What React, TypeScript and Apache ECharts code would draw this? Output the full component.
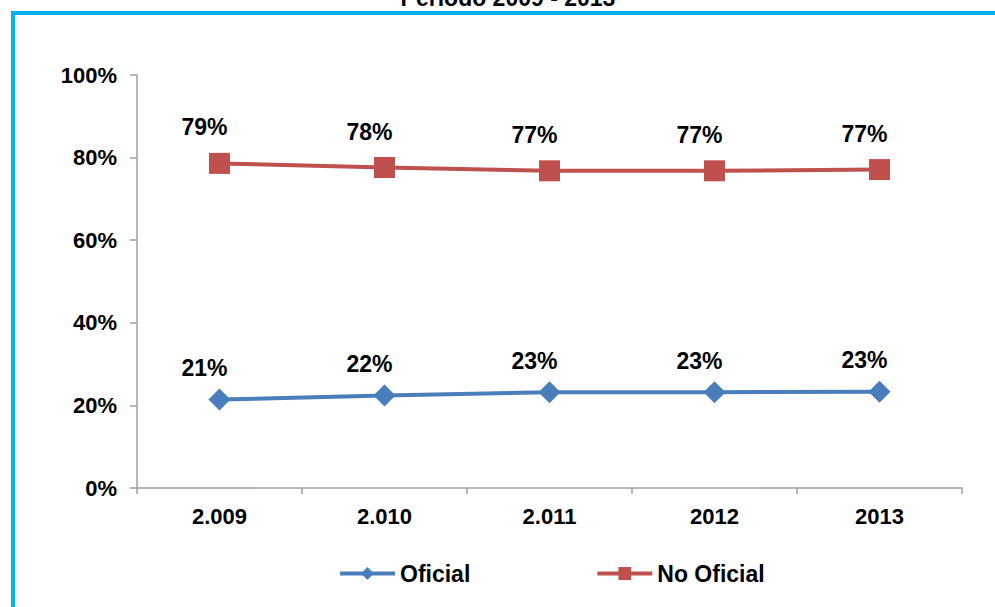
import React, { useEffect, useRef } from "react";
import * as echarts from "echarts";

const categories = ["2.009", "2.010", "2.011", "2012", "2013"];
const oficial = [21.4, 22.4, 23.2, 23.2, 23.3];
const noOficial = [78.6, 77.6, 76.8, 76.8, 77.1];
const yTicks = [0, 20, 40, 60, 80, 100];
const titleText = "Periodo 2009 - 2013";

const FONT = "'Liberation Sans', Arial, sans-serif";

export default function App() {
  const ref = useRef<HTMLDivElement>(null);
  useEffect(() => {
    if (!ref.current) return;
    const chart = echarts.init(ref.current, undefined, { renderer: "svg" });
    const labelBase = {
      show: true,
      position: "top" as const,
      fontFamily: FONT,
      fontWeight: "bold" as const,
      fontSize: 23,
      color: "#000",
      formatter: (p: any) => Math.round(p.value) + "%",
    };
    chart.setOption({
      animation: false,
      backgroundColor: "#fff",
      textStyle: { fontFamily: FONT },
      graphic: [
        {
          type: "text",
          x: 508,
          y: 9,
          style: {
            text: titleText,
            textAlign: "center",
            textVerticalAlign: "bottom",
            font: "bold 23px " + FONT,
            fill: "#000",
          },
        },
        {
          type: "line",
          shape: { x1: 11, y1: 13, x2: 995, y2: 13 },
          style: { stroke: "#00B0F0", lineWidth: 4 },
        },
        {
          type: "line",
          shape: { x1: 13, y1: 11, x2: 13, y2: 607 },
          style: { stroke: "#00B0F0", lineWidth: 4 },
        },
      ],
      grid: { left: 137, right: 33, top: 75, bottom: 119, containLabel: false },
      legend: {
        left: 333,
        top: 557,
        itemWidth: 55,
        itemHeight: 16,
        itemGap: 125,
        textStyle: { fontFamily: FONT, fontWeight: "bold", fontSize: 23, color: "#000" },
        data: [
          { name: "Oficial", lineStyle: { width: 4 } },
          { name: "No Oficial", lineStyle: { width: 4 } },
        ],
      },
      xAxis: {
        type: "category",
        data: categories,
        boundaryGap: true,
        axisLine: { lineStyle: { color: "#A0A0A0", width: 1.5 } },
        axisTick: { show: true, length: 6, lineStyle: { color: "#A0A0A0", width: 1.5 } },
        axisLabel: { fontFamily: FONT, fontWeight: "bold", fontSize: 22, color: "#000", margin: 17 },
        splitLine: { show: false },
      },
      yAxis: {
        type: "value",
        min: yTicks[0],
        max: yTicks[yTicks.length - 1],
        interval: 20,
        axisLine: { show: true, lineStyle: { color: "#A0A0A0", width: 1.5 } },
        axisTick: { show: true, length: 7, lineStyle: { color: "#A0A0A0", width: 1.5 } },
        axisLabel: {
          fontFamily: FONT,
          fontWeight: "bold",
          fontSize: 22,
          color: "#000",
          margin: 20,
          formatter: (v: number) => v + "%",
        },
        splitLine: { show: false },
      },
      series: [
        {
          name: "Oficial",
          type: "line",
          data: oficial,
          symbol: "diamond",
          symbolSize: 22,
          lineStyle: { color: "#4A7EBB", width: 4 },
          itemStyle: { color: "#4A7EBB" },
          label: { ...labelBase, offset: [-15, -4] },
        },
        {
          name: "No Oficial",
          type: "line",
          data: noOficial,
          symbol: "rect",
          symbolSize: 21,
          lineStyle: { color: "#C0504D", width: 4 },
          itemStyle: { color: "#C0504D" },
          label: { ...labelBase, offset: [-15, -9] },
        },
      ],
    });
    return () => chart.dispose();
  }, []);
  return (
    <div
      ref={ref}
      style={{ position: "fixed", left: 0, top: 0, width: 995, height: 607 }}
    />
  );
}
